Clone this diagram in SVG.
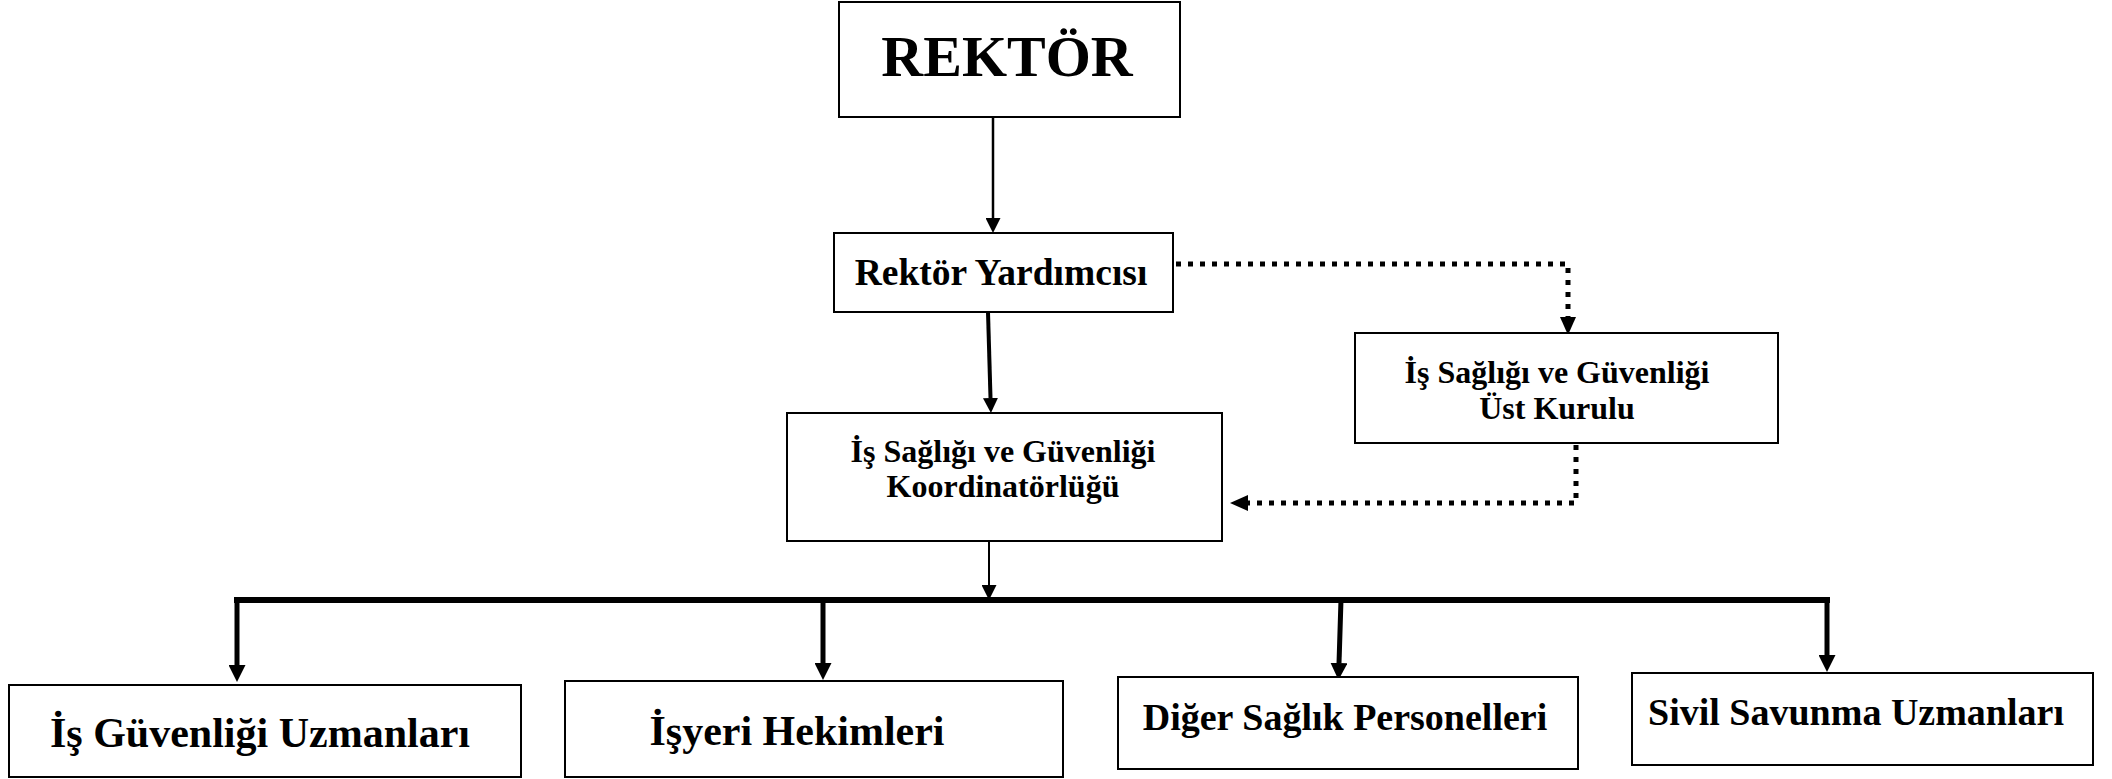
<svg xmlns="http://www.w3.org/2000/svg" width="2112" height="779" viewBox="0 0 2112 779">
<style>
.box{fill:#fff;stroke:#000;stroke-width:2}
.t{font-family:"Liberation Serif","Times New Roman",serif;font-weight:bold;fill:#000;text-anchor:middle}
.ln{fill:none;stroke:#000}
.dot{fill:none;stroke:#000;stroke-width:5;stroke-dasharray:5 7}
</style>
<defs>
<marker id="a15" viewBox="0 0 15 15" refX="0" refY="7.5" markerWidth="15" markerHeight="15" markerUnits="userSpaceOnUse" orient="auto"><path d="M0,0 L15,7.5 L0,15 z" fill="#000"/></marker>
<marker id="a17" viewBox="0 0 17 17" refX="0" refY="8.5" markerWidth="17" markerHeight="17" markerUnits="userSpaceOnUse" orient="auto"><path d="M0,0 L17,8.5 L0,17 z" fill="#000"/></marker>
<marker id="ad" viewBox="0 0 18 16" refX="0" refY="8" markerWidth="18" markerHeight="16" markerUnits="userSpaceOnUse" orient="auto"><path d="M0,0 L18,8 L0,16 z" fill="#000"/></marker>
</defs>
<rect width="2112" height="779" fill="#fff"/>
<g id="connectors">
<line class="ln" x1="993" y1="117" x2="993" y2="218" stroke-width="2.5" marker-end="url(#a15)"/>
<line class="ln" x1="988" y1="312" x2="990.5" y2="398" stroke-width="4" marker-end="url(#a15)"/>
<line class="ln" x1="989" y1="541" x2="989" y2="585" stroke-width="2" marker-end="url(#a15)"/>
<path class="ln" d="M237,600 H1827" stroke-width="6" stroke-linecap="square"/>
<line class="ln" x1="237" y1="598" x2="237" y2="665" stroke-width="5" marker-end="url(#a17)"/>
<line class="ln" x1="823" y1="600" x2="823" y2="663" stroke-width="5" marker-end="url(#a17)"/>
<line class="ln" x1="1341" y1="600" x2="1339" y2="663" stroke-width="5" marker-end="url(#a17)"/>
<line class="ln" x1="1827" y1="598" x2="1827" y2="655" stroke-width="5" marker-end="url(#a17)"/>
<path class="dot" d="M1176,264 H1568 V317" marker-end="url(#ad)"/>
<path class="dot" d="M1576,445 V503 H1248" marker-end="url(#ad)"/>
</g>
<g id="rektor">
<rect class="box" x="839" y="2" width="341" height="115"/>
<text class="t" x="1007" y="76" font-size="58">REKTÖR</text>
</g>
<g id="rektor-yardimcisi">
<rect class="box" x="834" y="233" width="339" height="79"/>
<text class="t" x="1001" y="285" font-size="37.5">Rektör Yardımcısı</text>
</g>
<g id="ust-kurul">
<rect class="box" x="1355" y="333" width="423" height="110"/>
<text class="t" x="1557" y="383" font-size="32">İş Sağlığı ve Güvenliği</text>
<text class="t" x="1557" y="419" font-size="32">Üst Kurulu</text>
</g>
<g id="koordinatorluk">
<rect class="box" x="787" y="413" width="435" height="128"/>
<text class="t" x="1003" y="462" font-size="32">İş Sağlığı ve Güvenliği</text>
<text class="t" x="1003" y="497" font-size="32">Koordinatörlüğü</text>
</g>
<g id="is-guvenligi-uzmanlari">
<rect class="box" x="9" y="685" width="512" height="92"/>
<text class="t" x="260" y="747" font-size="42">İş Güvenliği Uzmanları</text>
</g>
<g id="isyeri-hekimleri">
<rect class="box" x="565" y="681" width="498" height="96"/>
<text class="t" x="797" y="745" font-size="42">İşyeri Hekimleri</text>
</g>
<g id="diger-saglik">
<rect class="box" x="1118" y="677" width="460" height="92"/>
<text class="t" x="1345" y="730" font-size="38">Diğer Sağlık Personelleri</text>
</g>
<g id="sivil-savunma">
<rect class="box" x="1632" y="673" width="461" height="92"/>
<text class="t" x="1856" y="725" font-size="38">Sivil Savunma Uzmanları</text>
</g>
</svg>
